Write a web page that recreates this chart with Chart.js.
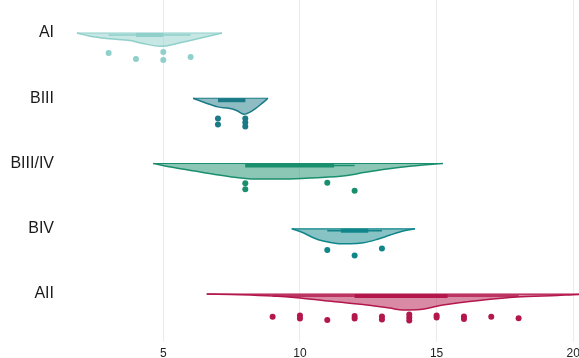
<!DOCTYPE html>
<html lang="en">
<head>
  <meta charset="UTF-8" />
  <title>Raincloud</title>
  <script src="https://cdn.jsdelivr.net/npm/chart.js"></script>
  <style>
    html, body { margin: 0; padding: 0; background: #fff; }
    .chart-wrapper { width: 579px; height: 358px; }
  </style>
</head>
<body>
<div class="chart-wrapper">
  <canvas id="rainChart"></canvas>
</div>

<script>
  // categories, top to bottom
  const groups = ['AI', 'BIII', 'BIII/IV', 'BIV', 'AII'];
  const xTicks = [5, 10, 15, 20];

  // density outlines (x, relative density)
  const aiDensX = [1.84, 2.32, 3.05, 3.78, 4.26, 4.9, 5.1, 5.61, 6.34, 7.07, 7.15];
  const aiDens  = [0, 0.2, 0.36, 0.47, 0.66, 0.83, 0.81, 0.61, 0.33, 0.03, 0];
  const b3DensX = [6.09, 6.53, 7.0, 7.4, 7.7, 7.95, 8.25, 8.6, 8.83];
  const b3Dens  = [0, 0.28, 0.54, 0.63, 0.78, 1.0, 0.79, 0.34, 0];
  const b34DensX = [4.63, 5.43, 6.16, 6.89, 7.62, 8.36, 9.45, 10.55, 11.65, 12.38, 13.11, 14.1, 15.23];
  const b34Dens  = [0, 0.26, 0.47, 0.68, 0.86, 0.97, 0.97, 0.89, 0.76, 0.55, 0.36, 0.16, 0];
  const b4DensX = [9.7, 10.12, 10.49, 10.85, 11.34, 11.83, 12.32, 12.81, 13.3, 13.78, 14.21];
  const b4Dens  = [0, 0.25, 0.56, 0.77, 0.92, 0.94, 0.88, 0.67, 0.39, 0.14, 0];
  const a2DensX = [6.59, 7.81, 9.01, 10.0, 11.21, 12.45, 13.29, 13.77, 14.39, 15.23, 16.7, 17.94, 19.41, 20.21, 21.5];
  const a2Dens  = [0, 0.04, 0.12, 0.25, 0.47, 0.69, 0.88, 1.0, 0.97, 0.69, 0.38, 0.19, 0.09, 0.03, 0];

  // interval summary per group
  const boxLow  = [3, 7, 8, 11, 9];
  const boxQ1   = [4, 7, 8, 11.5, 12];
  const boxQ3   = [5, 8, 11.25, 12.5, 15.4];
  const boxHigh = [6, 8, 12, 13, 18];

  // raw observations and their vertical jitter (in row units)
  const aiPts  = [3, 4, 5, 5, 6];
  const aiJit  = [0.307, 0.398, 0.291, 0.414, 0.368];
  const b3Pts  = [7, 7, 8, 8, 8];
  const b3Jit  = [0.311, 0.403, 0.311, 0.372, 0.434];
  const b34Pts = [8, 8, 11, 12];
  const b34Jit = [0.303, 0.395, 0.294, 0.417];
  const b4Pts  = [11, 12, 13];
  const b4Jit  = [0.326, 0.41, 0.303];
  const a2Pts  = [9, 10, 10, 11, 12, 12, 13, 13, 14, 14, 14, 15, 15, 16, 16, 17, 18];
  const a2Jit  = [0.348, 0.33, 0.375, 0.398, 0.337, 0.375, 0.345, 0.391, 0.314, 0.36, 0.406, 0.33, 0.36, 0.345, 0.383, 0.348, 0.372];

  const lineColors = ['#8fd0cb', '#1b7a87', '#1a8f6e', '#10868a', '#b3174b'];
  const fillColors = ['rgba(143,208,203,0.5)', 'rgba(27,122,135,0.5)', 'rgba(26,143,110,0.5)',
                      'rgba(16,134,138,0.5)', 'rgba(179,23,75,0.5)'];

  const densX = [aiDensX, b3DensX, b34DensX, b4DensX, a2DensX];
  const dens  = [aiDens, b3Dens, b34Dens, b4Dens, a2Dens];
  const pts   = [aiPts, b3Pts, b34Pts, b4Pts, a2Pts];
  const jit   = [aiJit, b3Jit, b34Jit, b4Jit, a2Jit];

  const slabScale = 0.245;   // row units per unit of density
  const boxOffset = 0.03;

  const datasets = [];
  groups.forEach((g, i) => {
    // slab
    datasets.push({
      type: 'line',
      data: densX[i].map((x, k) => ({ x, y: i + dens[i][k] * slabScale })),
      borderColor: lineColors[i],
      backgroundColor: fillColors[i],
      borderWidth: 1.5,
      pointRadius: 0,
      cubicInterpolationMode: 'monotone',
      fill: { value: i },
      order: 3
    });
    // slab top edge
    datasets.push({
      type: 'line',
      data: [{ x: densX[i][0], y: i }, { x: densX[i][densX[i].length - 1], y: i }],
      borderColor: lineColors[i],
      borderWidth: 1.2,
      pointRadius: 0,
      fill: false,
      order: 3
    });
    // thin interval
    datasets.push({
      type: 'line',
      data: [{ x: boxLow[i], y: i + boxOffset }, { x: boxHigh[i], y: i + boxOffset }],
      borderColor: lineColors[i],
      borderWidth: 1.5,
      pointRadius: 0,
      fill: false,
      order: 2
    });
    // thick interval
    datasets.push({
      type: 'line',
      data: [{ x: boxQ1[i], y: i + boxOffset }, { x: boxQ3[i], y: i + boxOffset }],
      borderColor: lineColors[i],
      borderWidth: 4,
      borderCapStyle: 'butt',
      pointRadius: 0,
      fill: false,
      order: 2
    });
    // rain
    datasets.push({
      type: 'scatter',
      data: pts[i].map((x, k) => ({ x, y: i + jit[i][k] })),
      backgroundColor: lineColors[i],
      borderWidth: 0,
      pointRadius: 3,
      order: 1
    });
  });

  new Chart(document.getElementById('rainChart'), {
    type: 'scatter',
    data: { datasets },
    options: {
      responsive: true,
      maintainAspectRatio: false,
      animation: false,
      layout: { padding: 0, autoPadding: false },
      plugins: { legend: { display: false }, tooltip: { enabled: false } },
      scales: {
        x: {
          type: 'linear',
          min: 1.184,
          max: 20.21,
          afterBuildTicks: s => { s.ticks = xTicks.map(v => ({ value: v })); },
          afterFit: s => { s.height = 16; s.paddingLeft = 0; s.paddingRight = 0; },
          grid: { color: '#ebebeb', lineWidth: 1, drawTicks: false },
          border: { display: false },
          ticks: {
            padding: 4,
            color: '#222',
            font: { family: 'Liberation Sans, Arial, sans-serif', size: 12 }
          }
        },
        y: {
          type: 'linear',
          reverse: true,
          min: -0.5057,
          max: 4.735,
          afterBuildTicks: s => { s.ticks = groups.map((_, i) => ({ value: i })); },
          afterFit: s => { s.width = 59; s.paddingTop = 0; s.paddingBottom = 0; },
          grid: { display: false, drawTicks: false },
          border: { display: false },
          ticks: {
            padding: 5,
            color: '#1a1a1a',
            font: { family: 'Liberation Sans, Arial, sans-serif', size: 16 },
            callback: v => groups[v]
          }
        }
      }
    }
  });
</script>
</body>
</html>
